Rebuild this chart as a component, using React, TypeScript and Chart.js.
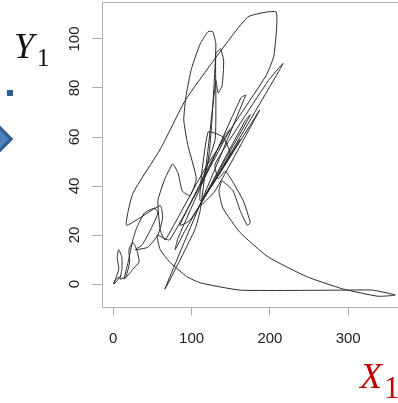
import React, { useEffect, useRef } from "react";
import { Chart, registerables } from "chart.js";

Chart.register(...registerables);

const seriesX = [
  0, 3, 1, 9, 3, 7, 5, 7, 11, 11, 9, 16, 21, 20, 25, 30, 33, 25, 14,
  19, 25, 30, 40, 53, 57, 49, 37, 28, 44, 57, 63, 60, 17, 25, 60, 92, 130, 172, 208, 205, 195, 162, 117, 79, 66,
  60, 57, 66, 76, 83, 88, 98, 106,
  95, 90, 93, 100, 111, 121, 127, 131, 129, 126, 123, 118, 111,
  130, 131, 131, 137, 141, 139, 134, 131, 121, 111, 104,
  66, 169, 163, 83, 79, 92, 217, 198, 130,
  134, 143, 152, 166, 175, 171, 162, 153, 139, 135, 140, 162, 198, 247, 293, 338, 360, 331, 293, 162, 111, 94, 72, 60, 56,
  72, 149, 143, 85, 98, 162, 155, 111, 121, 140, 149, 117,
  175, 169, 111, 130, 187, 181, 126,
];
const seriesY = [
  0, 2, 0, 3, 2, 6, 11, 14, 11, 6, 2, 3, 9, 14, 17, 14, 9, 6, 2,
  9, 18, 23, 29, 31, 29, 23, 16, 14, 15, 20, 27, 32, 24, 37, 55, 75, 92, 109, 111, 93, 85, 69, 47, 25, 18,
  22, 34, 43, 49, 45, 38, 36, 43,
  57, 67, 77, 88, 98, 103, 103, 98, 83, 67, 55, 45, 40,
  59, 77, 94, 96, 91, 81, 78, 83, 55, 30, 22,
  -2, 77, 76, 19, 14, 22, 90, 83, 49,
  43, 46, 42, 34, 25, 24, 30, 38, 42, 38, 31, 21, 11, 3, -2, -5, -4.5, -2.5, -2.5, -2.5, 0.5, 3, 9, 14, 20,
  18, 63, 61, 24, 26, 59, 55, 34, 62, 60, 53, 36,
  69, 67, 32, 38, 71, 68, 40,
];
const xTickValues = [0, 100, 200, 300];
const yTickValues = [0, 20, 40, 60, 80, 100];

const framePlugin = {
  id: "frame",
  afterDraw(chart: any) {
    const { ctx, chartArea } = chart;
    const { left, top, right, bottom } = chartArea;
    ctx.save();
    ctx.strokeStyle = "#b0b0b0";
    ctx.lineWidth = 1;
    ctx.beginPath();
    ctx.moveTo(right + 2, Math.round(top) + 0.5);
    ctx.lineTo(Math.round(left) + 0.5, Math.round(top) + 0.5);
    ctx.lineTo(Math.round(left) + 0.5, Math.round(bottom) + 0.5);
    ctx.lineTo(right + 2, Math.round(bottom) + 0.5);
    ctx.stroke();
    ctx.restore();
  },
};

export default function App() {
  const ref = useRef<HTMLCanvasElement>(null);

  useEffect(() => {
    if (!ref.current) return;
    const points = seriesX.map((x, i) => ({ x, y: seriesY[i] }));
    const font = { family: '"Liberation Sans", Arial, sans-serif', size: 15 };
    const chart = new Chart(ref.current, {
      type: "scatter",
      data: {
        datasets: [
          {
            data: points,
            showLine: true,
            borderColor: "#2a2a2a",
            borderWidth: 1,
            pointRadius: 0,
            tension: 0.15,
          },
        ],
      },
      options: {
        animation: false,
        responsive: false,
        maintainAspectRatio: false,
        devicePixelRatio: 1,
        layout: { padding: { top: 2, right: 0, bottom: 0, left: 0 } },
        plugins: { legend: { display: false }, tooltip: { enabled: false } },
        scales: {
          x: {
            type: "linear",
            min: -14.4,
            max: 363.6,
            afterBuildTicks: (s: any) => {
              s.ticks = xTickValues.map((v) => ({ value: v }));
            },
            afterFit: (s: any) => {
              s.height = 96.5;
              s.paddingLeft = 0;
              s.paddingRight = 0;
            },
            border: { display: false },
            grid: {
              drawOnChartArea: false,
              drawTicks: true,
              tickLength: 9,
              color: "#aaaaaa",
            },
            ticks: {
              color: "#222",
              font,
              padding: 14,
              maxRotation: 0,
              autoSkip: false,
            },
          },
          y: {
            type: "linear",
            min: -9.18,
            max: 115.1,
            afterBuildTicks: (s: any) => {
              s.ticks = yTickValues.map((v) => ({ value: v }));
            },
            afterFit: (s: any) => {
              s.width = 102;
              s.paddingTop = 0;
              s.paddingBottom = 0;
            },
            border: { display: false },
            grid: {
              drawOnChartArea: false,
              drawTicks: true,
              tickLength: 10,
              color: "#aaaaaa",
            },
            ticks: {
              color: "#222",
              font,
              padding: 5,
              minRotation: 90,
              maxRotation: 90,
              crossAlign: "center",
              autoSkip: false,
            },
          },
        },
      },
      plugins: [framePlugin],
    });
    return () => chart.destroy();
  }, []);

  return (
    <div
      style={{
        position: "absolute",
        left: 0,
        top: 0,
        width: 398,
        height: 403,
        overflow: "hidden",
        background: "#fff",
      }}
    >
      <canvas ref={ref} width={398} height={403} style={{ display: "block" }} />
      <div
        style={{
          position: "absolute",
          left: 7,
          top: 90,
          width: 6,
          height: 6,
          background: "#2f5e98",
        }}
      />
      <div
        style={{
          position: "absolute",
          left: -11,
          top: 129,
          width: 20,
          height: 20,
          boxSizing: "border-box",
          transform: "rotate(45deg)",
          background: "#4f81bd",
          border: "3px solid #2f5d95",
        }}
      />
      <span
        style={{
          position: "absolute",
          left: 14,
          top: 28,
          fontFamily: '"Liberation Serif", "DejaVu Serif", serif',
          fontStyle: "italic",
          fontSize: 36,
          lineHeight: "36px",
          color: "#111",
        }}
      >
        Y
      </span>
      <span
        style={{
          position: "absolute",
          left: 37,
          top: 45,
          fontFamily: '"Liberation Serif", "DejaVu Serif", serif',
          fontSize: 25,
          lineHeight: "25px",
          color: "#111",
        }}
      >
        1
      </span>
      <span
        style={{
          position: "absolute",
          left: 360,
          top: 358,
          fontFamily: '"Liberation Serif", "DejaVu Serif", serif',
          fontStyle: "italic",
          fontSize: 36,
          lineHeight: "36px",
          color: "#c00000",
        }}
      >
        X
      </span>
      <span
        style={{
          position: "absolute",
          left: 384,
          top: 372,
          fontFamily: '"Liberation Serif", "DejaVu Serif", serif',
          fontSize: 31,
          lineHeight: "31px",
          color: "#c00000",
        }}
      >
        1
      </span>
    </div>
  );
}
